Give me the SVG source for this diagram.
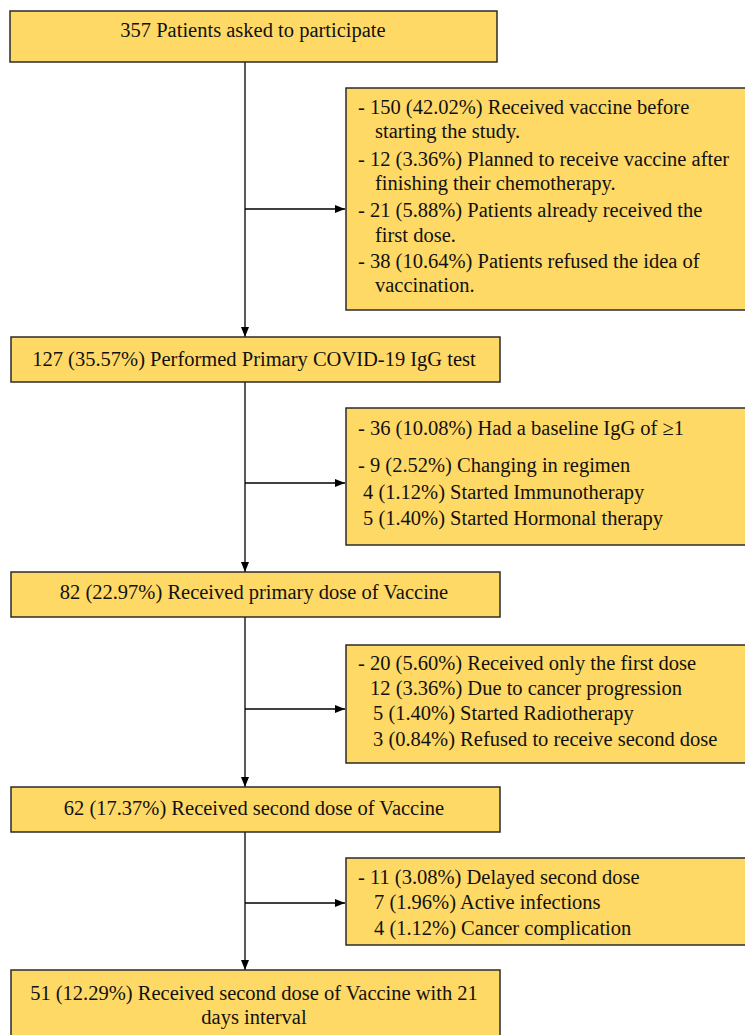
<svg xmlns="http://www.w3.org/2000/svg" width="745" height="1035" viewBox="0 0 745 1035">
<defs>
<marker id="ah" markerWidth="10" markerHeight="8" refX="10" refY="4" orient="auto" markerUnits="userSpaceOnUse">
<path d="M0,0 L10,4 L0,8 Z" fill="#000"/>
</marker>
<style>
.box{fill:#FFD966;stroke:#2b2b2b;stroke-width:1.5}
.t{font-family:"Liberation Serif","Times New Roman",serif;font-size:20.5px;fill:#111}
.c{text-anchor:middle}
.ln{stroke:#000;stroke-width:1.3;fill:none}
</style>
</defs>
<rect width="745" height="1035" fill="#fff"/>
<g id="connectors">
<line class="ln" x1="245" y1="62" x2="245" y2="337" marker-end="url(#ah)"/>
<line class="ln" x1="245" y1="209" x2="345" y2="209" marker-end="url(#ah)"/>
<line class="ln" x1="245" y1="382" x2="245" y2="572" marker-end="url(#ah)"/>
<line class="ln" x1="245" y1="483" x2="345" y2="483" marker-end="url(#ah)"/>
<line class="ln" x1="245" y1="617" x2="245" y2="787" marker-end="url(#ah)"/>
<line class="ln" x1="245" y1="709" x2="345" y2="709" marker-end="url(#ah)"/>
<line class="ln" x1="245" y1="832" x2="245" y2="970" marker-end="url(#ah)"/>
<line class="ln" x1="245" y1="903" x2="345" y2="903" marker-end="url(#ah)"/>
</g>
<g id="n1">
<rect class="box" x="10" y="11" width="487" height="51"/>
<text class="t c" x="253" y="37">357 Patients asked to participate</text>
</g>
<g id="r1">
<rect class="box" x="346" y="88" width="405" height="222"/>
<text class="t" x="358" y="114">- 150 (42.02%) Received vaccine before</text>
<text class="t" x="375" y="138">starting the study.</text>
<text class="t" x="358" y="166">- 12 (3.36%) Planned to receive vaccine after</text>
<text class="t" x="375" y="190">finishing their chemotherapy.</text>
<text class="t" x="358" y="217">- 21 (5.88%) Patients already received the</text>
<text class="t" x="375" y="242">first dose.</text>
<text class="t" x="358" y="268">- 38 (10.64%) Patients refused the idea of</text>
<text class="t" x="375" y="292">vaccination.</text>
</g>
<g id="n2">
<rect class="box" x="11" y="337" width="489" height="45"/>
<text class="t c" x="254" y="366">127 (35.57%) Performed Primary COVID-19 IgG test</text>
</g>
<g id="r2">
<rect class="box" x="346" y="408" width="405" height="137"/>
<text class="t" x="358" y="435">- 36 (10.08%) Had a baseline IgG of ≥1</text>
<text class="t" x="358" y="472">- 9 (2.52%) Changing in regimen</text>
<text class="t" x="363" y="499">4 (1.12%) Started Immunotherapy</text>
<text class="t" x="363" y="525">5 (1.40%) Started Hormonal therapy</text>
</g>
<g id="n3">
<rect class="box" x="11" y="572" width="489" height="45"/>
<text class="t c" x="254" y="599">82 (22.97%) Received primary dose of Vaccine</text>
</g>
<g id="r3">
<rect class="box" x="346" y="645" width="405" height="118"/>
<text class="t" x="358" y="670">- 20 (5.60%) Received only the first dose</text>
<text class="t" x="370" y="695">12 (3.36%) Due to cancer progression</text>
<text class="t" x="373" y="720">5 (1.40%) Started Radiotherapy</text>
<text class="t" x="373" y="746">3 (0.84%) Refused to receive second dose</text>
</g>
<g id="n4">
<rect class="box" x="11" y="787" width="489" height="45"/>
<text class="t c" x="254" y="815">62 (17.37%) Received second dose of Vaccine</text>
</g>
<g id="r4">
<rect class="box" x="346" y="858" width="405" height="87"/>
<text class="t" x="358" y="884">- 11 (3.08%) Delayed second dose</text>
<text class="t" x="374" y="909">7 (1.96%) Active infections</text>
<text class="t" x="374" y="935">4 (1.12%) Cancer complication</text>
</g>
<g id="n5">
<rect class="box" x="11" y="970" width="489" height="75"/>
<text class="t c" x="254" y="1000">51 (12.29%) Received second dose of Vaccine with 21</text>
<text class="t c" x="254" y="1024">days interval</text>
</g>
</svg>
